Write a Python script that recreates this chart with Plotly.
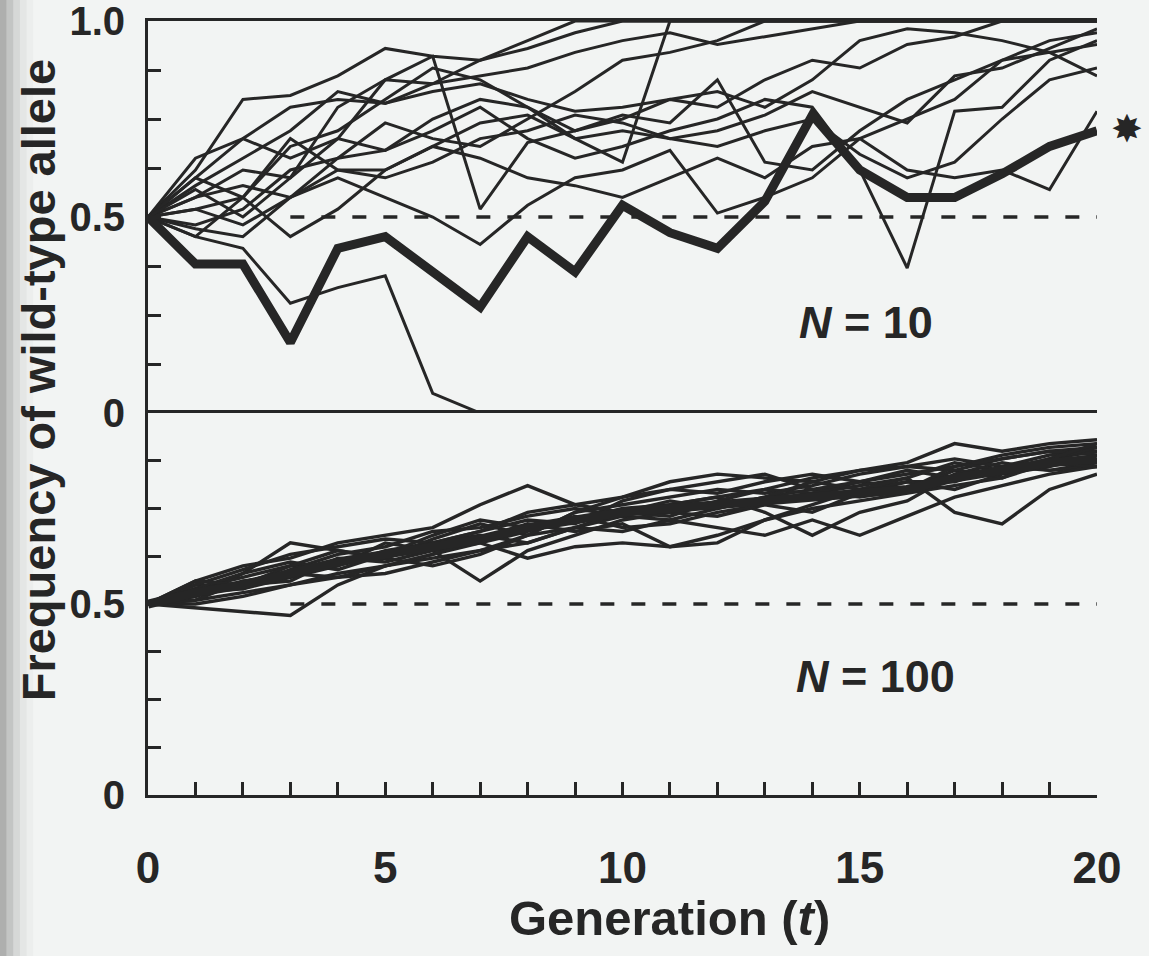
import plotly.graph_objects as go

# ---------------- data ----------------
generations = list(range(21))

# N = 10 panel (thin replicate populations)
n10_runs = [
    [0.5,0.45,0.42,0.28,0.32,0.35,0.05,0,0,0,0,0,0,0,0,0,0,0,0,0,0],
    [0.5,0.62,0.8,0.81,0.86,0.93,0.91,0.9,0.95,1,1,1,1,1,1,1,1,1,1,1,1],
    [0.5,0.58,0.65,0.72,0.82,0.79,0.84,0.9,0.93,0.97,1,1,1,1,1,1,1,1,1,1,1],
    [0.5,0.6,0.55,0.68,0.72,0.8,0.88,0.85,0.78,0.7,0.64,1,1,1,1,1,1,1,1,1,1],
    [0.5,0.55,0.62,0.6,0.7,0.85,0.91,0.52,0.69,0.72,0.75,0.8,0.78,0.85,0.9,0.88,0.94,0.96,1,1,1],
    [0.5,0.52,0.48,0.55,0.6,0.55,0.5,0.43,0.53,0.6,0.62,0.67,0.51,0.55,0.6,0.7,0.75,0.8,0.9,0.95,0.97],
    [0.5,0.48,0.52,0.62,0.65,0.67,0.72,0.78,0.7,0.65,0.68,0.72,0.75,0.8,0.78,0.62,0.37,0.77,0.78,0.9,0.95],
    [0.5,0.47,0.45,0.55,0.62,0.62,0.68,0.65,0.6,0.58,0.55,0.6,0.65,0.6,0.68,0.7,0.62,0.6,0.62,0.57,0.77],
    [0.5,0.6,0.7,0.65,0.7,0.67,0.75,0.8,0.78,0.72,0.76,0.74,0.85,0.64,0.62,0.72,0.8,0.85,0.9,0.92,0.86],
    [0.5,0.65,0.7,0.78,0.8,0.79,0.82,0.84,0.8,0.77,0.78,0.8,0.82,0.78,0.85,0.95,0.98,0.97,0.95,0.92,0.94],
    [0.5,0.55,0.58,0.55,0.65,0.74,0.7,0.68,0.75,0.82,0.9,0.92,0.95,1,1,1,1,1,1,1,1],
    [0.5,0.52,0.55,0.7,0.62,0.6,0.64,0.7,0.72,0.76,0.74,0.7,0.72,0.76,0.82,0.78,0.74,0.86,0.88,0.93,0.98],
    [0.5,0.45,0.55,0.45,0.52,0.62,0.68,0.74,0.76,0.7,0.72,0.7,0.68,0.72,0.75,0.66,0.6,0.64,0.75,0.85,0.88],
    [0.5,0.57,0.5,0.6,0.78,0.85,0.84,0.86,0.88,0.92,0.95,0.97,0.94,0.96,0.98,1,1,1,1,1,1],
]
# highlighted run (thick line, marked with a star)
n10_highlight = [0.5,0.38,0.38,0.18,0.42,0.45,0.36,0.27,0.45,0.36,0.53,0.46,0.42,
                 0.54,0.76,0.62,0.55,0.55,0.61,0.68,0.72]

# N = 100 panel
n100_runs = [
    [0.5,0.56,0.6,0.62,0.66,0.68,0.7,0.76,0.81,0.76,0.78,0.82,0.84,0.83,0.82,0.85,0.87,0.92,0.9,0.92,0.93],
    [0.5,0.49,0.48,0.47,0.55,0.6,0.62,0.64,0.66,0.7,0.73,0.72,0.75,0.78,0.8,0.78,0.8,0.85,0.83,0.88,0.9],
    [0.5,0.54,0.57,0.6,0.6,0.66,0.64,0.56,0.64,0.68,0.72,0.74,0.73,0.76,0.74,0.79,0.82,0.82,0.86,0.85,0.87],
    [0.5,0.52,0.58,0.66,0.64,0.62,0.67,0.71,0.68,0.74,0.76,0.78,0.8,0.79,0.81,0.84,0.86,0.85,0.88,0.9,0.91],
    [0.5,0.51,0.53,0.55,0.58,0.6,0.63,0.66,0.62,0.65,0.66,0.65,0.68,0.72,0.76,0.8,0.82,0.8,0.84,0.86,0.89],
    [0.5,0.55,0.54,0.59,0.63,0.65,0.69,0.7,0.73,0.75,0.73,0.76,0.78,0.74,0.68,0.74,0.77,0.84,0.87,0.85,0.86],
    [0.5,0.53,0.56,0.57,0.6,0.64,0.66,0.69,0.72,0.71,0.77,0.8,0.79,0.82,0.84,0.82,0.8,0.86,0.89,0.91,0.92],
    [0.5,0.52,0.55,0.56,0.62,0.61,0.64,0.66,0.69,0.73,0.7,0.71,0.74,0.76,0.79,0.81,0.83,0.74,0.71,0.8,0.84],
    [0.5,0.54,0.58,0.61,0.59,0.63,0.68,0.72,0.7,0.72,0.75,0.76,0.78,0.8,0.83,0.85,0.86,0.88,0.86,0.89,0.9],
    [0.5,0.5,0.52,0.55,0.57,0.58,0.61,0.64,0.68,0.7,0.69,0.72,0.7,0.68,0.72,0.68,0.73,0.78,0.81,0.84,0.86],
    [0.5,0.55,0.59,0.63,0.65,0.67,0.66,0.68,0.66,0.7,0.74,0.73,0.77,0.8,0.79,0.82,0.84,0.86,0.88,0.9,0.89],
    [0.5,0.53,0.54,0.57,0.61,0.62,0.6,0.63,0.68,0.74,0.78,0.8,0.82,0.84,0.8,0.82,0.85,0.83,0.85,0.88,0.91],
    [0.5,0.51,0.56,0.58,0.57,0.6,0.63,0.67,0.71,0.69,0.71,0.65,0.66,0.72,0.75,0.77,0.79,0.81,0.83,0.87,0.86],
    [0.5,0.56,0.55,0.6,0.64,0.62,0.66,0.69,0.74,0.76,0.74,0.77,0.75,0.78,0.82,0.8,0.83,0.87,0.85,0.88,0.92],
]
n100_highlight = [0.5,0.53,0.55,0.58,0.61,0.63,0.65,0.67,0.7,0.72,0.74,0.75,0.76,
                  0.77,0.78,0.79,0.8,0.83,0.85,0.87,0.88]

# reference (initial frequency) dashed lines
ref_x = [3, 20]
ref_y = [0.5, 0.5]

x_tick_vals = [0, 5, 10, 15, 20]
x_tick_text = ["0", "5", "10", "15", "20"]
top_y_vals = [0, 0.5, 1.0]
top_y_text = ["0", "0.5", "1.0"]
bot_y_vals = [0, 0.5]
bot_y_text = ["0", "0.5"]

# ---------------- styling ----------------
INK = "#262626"
BG = "#f2f4f3"
FONT = "Liberation Sans, Arial, Helvetica, sans-serif"

fig = go.Figure()

for run in n10_runs:
    fig.add_trace(go.Scatter(x=generations, y=run, mode="lines", xaxis="x2", yaxis="y2",
                             line=dict(color=INK, width=3), showlegend=False, hoverinfo="skip"))
fig.add_trace(go.Scatter(x=generations, y=n10_highlight, mode="lines", xaxis="x2", yaxis="y2",
                         line=dict(color=INK, width=9), showlegend=False))
fig.add_trace(go.Scatter(x=ref_x, y=ref_y, mode="lines", xaxis="x2", yaxis="y2",
                         line=dict(color=INK, width=3.5, dash="14px,17px"), showlegend=False))

for run in n100_runs:
    fig.add_trace(go.Scatter(x=generations, y=run, mode="lines", xaxis="x", yaxis="y",
                             line=dict(color=INK, width=3.4), showlegend=False, hoverinfo="skip"))
fig.add_trace(go.Scatter(x=generations, y=n100_highlight, mode="lines", xaxis="x", yaxis="y",
                         line=dict(color=INK, width=9), showlegend=False))
fig.add_trace(go.Scatter(x=ref_x, y=ref_y, mode="lines", xaxis="x", yaxis="y",
                         line=dict(color=INK, width=3.5, dash="14px,17px"), showlegend=False))

xtickfont = dict(family=FONT, size=44, color=INK, weight="bold")
ytickfont = dict(family=FONT, size=40, color=INK, weight="bold")
split = 0.4935

fig.update_layout(
    width=1149, height=956,
    margin=dict(l=148, r=52, t=21, b=161, autoexpand=False),
    paper_bgcolor=BG, plot_bgcolor=BG,
    showlegend=False,
    xaxis=dict(range=[0, 20], anchor="y", showline=True, linecolor=INK, linewidth=3,
               mirror=True, showgrid=False, zeroline=False, automargin=False,
               tickmode="array", tickvals=x_tick_vals, ticktext=x_tick_text,
               ticks="inside", ticklen=13, tickwidth=2.5, tickcolor=INK,
               minor=dict(ticks="inside", ticklen=13, tickwidth=2.5, tickcolor=INK,
                          dtick=1, tick0=0, showgrid=False),
               tickfont=xtickfont, ticklabelstandoff=32, ticklabeloverflow="allow"),
    xaxis2=dict(range=[0, 20], anchor="y2", matches="x", side="top", showline=True,
                linecolor=INK, linewidth=3, showgrid=False, zeroline=False, automargin=False,
                showticklabels=False, ticks=""),
    yaxis=dict(domain=[0, split], range=[0, 1], anchor="x", showline=True, linecolor=INK,
               linewidth=3, showgrid=False, zeroline=False, automargin=False,
               tickmode="array", tickvals=bot_y_vals, ticktext=bot_y_text,
               ticks="inside", ticklen=13, tickwidth=2.5, tickcolor=INK,
               minor=dict(ticks="inside", ticklen=13, tickwidth=2.5, tickcolor=INK,
                          dtick=0.125, tick0=0, showgrid=False),
               tickfont=ytickfont, ticklabelstandoff=12, ticklabeloverflow="allow"),
    yaxis2=dict(domain=[split, 1], range=[0, 1], anchor="x2", showline=True, linecolor=INK,
                linewidth=3, showgrid=False, zeroline=False, automargin=False,
                tickmode="array", tickvals=top_y_vals, ticktext=top_y_text,
                ticks="inside", ticklen=13, tickwidth=2.5, tickcolor=INK,
                minor=dict(ticks="inside", ticklen=13, tickwidth=2.5, tickcolor=INK,
                           dtick=0.125, tick0=0, showgrid=False),
                tickfont=ytickfont, ticklabelstandoff=12, ticklabeloverflow="allow"),
)

# scanned-page shadow along the left edge
shadow = [(-0.156, -0.149, 0.50), (-0.149, -0.142, 0.34), (-0.142, -0.135, 0.20),
          (-0.135, -0.128, 0.10), (-0.128, -0.121, 0.04)]
for x0, x1, op in shadow:
    fig.add_shape(type="rect", xref="paper", yref="paper", x0=x0, x1=x1, y0=-0.21, y1=1.03,
                  fillcolor="#6a6a6a", opacity=op, line=dict(width=0), layer="below")

label_font = dict(family=FONT, size=47, color=INK, weight="bold")
fig.add_annotation(text="Frequency of wild-type allele", xref="paper", yref="paper",
                   x=-0.116, y=0.537, textangle=-90, showarrow=False, font=label_font,
                   xanchor="center", yanchor="middle")
fig.add_annotation(text="Generation (<i>t</i>)", xref="paper", yref="paper",
                   x=0.55, y=-0.159, showarrow=False, font=dict(family=FONT, size=49, color=INK, weight="bold"),
                   xanchor="center", yanchor="middle")
fig.add_annotation(text="<i>N</i> = 10", xref="x2", yref="y2", x=15.13, y=0.232,
                   showarrow=False, font=dict(family=FONT, size=45, color=INK, weight="bold"))
fig.add_annotation(text="<i>N</i> = 100", xref="x", yref="y", x=15.34, y=0.31,
                   showarrow=False, font=dict(family=FONT, size=45, color=INK, weight="bold"))
fig.add_annotation(text="✸", xref="x2", yref="y2", x=generations[-1], y=n10_highlight[-1],
                   xshift=30, yshift=2, showarrow=False, borderpad=0,
                   font=dict(family="DejaVu Sans", size=38, color=INK))

fig.write_html("out.html")
